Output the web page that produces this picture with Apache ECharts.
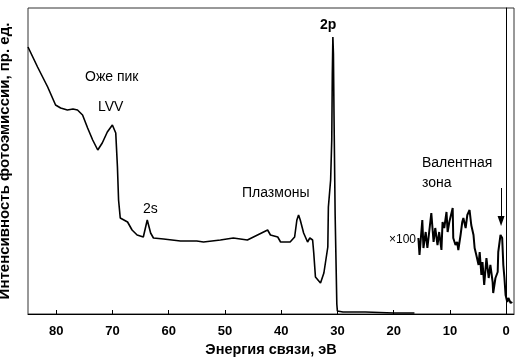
<!DOCTYPE html>
<html><head><meta charset="utf-8">
<script src="https://cdn.jsdelivr.net/npm/echarts@6/dist/echarts.min.js"></script>
<style>html,body{margin:0;padding:0;background:#fff}#c{width:524px;height:357px}</style>
</head><body><div id="c"></div>
<script>
// Binding energy (eV) and intensity (arb. units) of the main spectrum
const mainEnergy = [85.0,83.3,81.5,80.1,79.2,78.0,77.0,76.2,75.3,74.4,73.5,72.6,71.8,70.9,70.0,69.4,69.1,68.9,68.6,67.3,66.5,65.6,64.5,63.8,63.2,62.7,60.9,57.9,55.0,53.8,50.8,48.5,46.0,44.2,42.4,41.9,40.6,40.1,38.4,37.6,37.2,36.9,36.6,36.0,35.3,34.9,34.4,34.2,33.9,33.0,32.4,31.7,31.6,31.2,31.0,30.9,30.8,30.7,30.6,30.5,30.4,30.2,30.1,30.0,29.0,25.0,20.0,16.3];
const mainIntensity = [267,247,227,209,206,204,205,204,199,186,174,164,171,182,189,181,147,114,96,92,84,79,77,94,81,76,75,73,73,72,74,76,74,79,84,79,77,72,72,77,94,99,94,81,72,76,74,61,37,31,41,67,107,134,174,240,277,260,200,150,100,40,10,3,2,2,1,1];
// Valence band region (x100)
const valEnergy = [15.6,15.4,14.9,14.7,14.3,14.0,13.8,13.3,12.9,12.6,12.2,11.9,11.5,11.3,11.0,10.6,10.4,10.1,9.5,9.4,9.0,8.7,8.5,8.1,7.8,7.6,7.2,6.9,6.5,6.2,5.8,5.6,5.3,4.9,4.7,4.4,4.2,3.9,3.5,3.1,2.8,2.4,2.3,1.9,1.5,1.4,1.0,0.7,0.5,0.3,0.1,-0.2,-0.4,-0.8,-1.1];
const valIntensity = [76,59,94,66,82,66,76,101,72,86,69,82,64,92,86,102,82,92,106,76,69,72,64,79,92,96,86,99,104,89,79,66,59,49,62,39,52,29,56,36,49,32,21,36,42,62,79,76,49,36,19,12,16,11,12];
const xTicks = [0,10,20,30,40,50,60,70,80];

const mainData = mainEnergy.map((e,i)=>[e, mainIntensity[i]]);
const valData = valEnergy.map((e,i)=>[e, valIntensity[i]]);

const F = '"Liberation Sans", Arial, sans-serif';
const chart = echarts.init(document.getElementById('c'));
function txt(x,y,t,size,weight){
  return {type:'text', x:x, y:y, style:{text:t, font:(weight||'normal')+' '+size+'px '+F, fill:'#000', align:'left', verticalAlign:'middle'}};
}
chart.setOption({
  animation:false,
  backgroundColor:'#fff',
  grid:{left:28, right:10, top:8, bottom:43, outerBoundsMode:'none', containLabel:false, show:true, borderColor:'#333', borderWidth:1, backgroundColor:'transparent'},
  xAxis:{type:'value', inverse:true, min:-1.4, max:85,
    axisLine:{lineStyle:{color:'#000', width:1}},
    axisTick:{inside:true, length:4, customValues:xTicks, lineStyle:{color:'#000'}},
    axisLabel:{customValues:xTicks, margin:11, color:'#000', fontSize:13, fontWeight:'bold', fontFamily:F},
    splitLine:{show:false},
    name:'Энергия связи, эВ', nameLocation:'middle', nameGap:23,
    nameTextStyle:{color:'#000', fontSize:14.5, fontWeight:'bold', fontFamily:F}
  },
  yAxis:{type:'value', min:0, max:306,
    axisLine:{show:true, lineStyle:{color:'#000'}}, axisTick:{show:false}, axisLabel:{show:false}, splitLine:{show:false},
    name:'Интенсивность фотоэмиссии, пр. ед.', nameLocation:'middle', nameGap:16, nameRotate:90,
    nameTextStyle:{color:'#000', fontSize:15, fontWeight:'bold', fontFamily:F}
  },
  series:[
    {type:'line', data:mainData, showSymbol:false, lineStyle:{color:'#000', width:1.6}},
    {type:'line', data:valData, showSymbol:false, lineStyle:{color:'#000', width:2},
     markLine:{silent:true, animation:false, symbol:['none','triangle'], symbolSize:[7,10], label:{show:false},
       lineStyle:{color:'#000', width:1, type:'solid'},
       data:[[{coord:[0.9,126]},{coord:[0.9,93]}]]}}
  ],
  graphic:[
    txt(85,77,'Оже пик',14),
    txt(98,107,'LVV',14),
    txt(143,209,'2s',14),
    txt(242,193,'Плазмоны',14),
    txt(320,25,'2p',14,'bold'),
    txt(422,163,'Валентная',14),
    txt(422,183,'зона',14),
    txt(389,240,'×100',12)
  ]
});
</script></body></html>
